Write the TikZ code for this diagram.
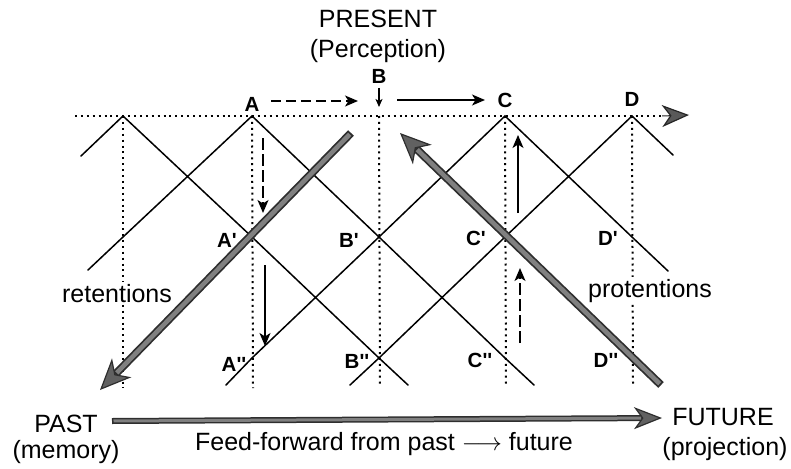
\documentclass[tikz,border=0pt]{standalone}
\usepackage{fontspec}
\setmainfont{Liberation Sans}
\usetikzlibrary{arrows.meta}
\begin{document}
\begin{tikzpicture}[x=1pt,y=-1pt,
  lat/.style={line width=1.5pt, line cap=round},
  dots/.style={line width=2pt, dash pattern=on 2pt off 3.9pt},
  big/.style={font=\fontsize{25}{29}\selectfont, inner sep=0pt},
  lbl/.style={font=\fontsize{20.5}{24}\selectfont\bfseries, inner sep=0pt},
  sarrow/.style={line width=1.5pt, -{Stealth[length=13pt,width=11pt,inset=3.5pt]}},
  tinyarrow/.style={line width=1.3pt, -{Stealth[length=8pt,width=7pt,inset=2pt]}},
  dsh/.style={dash pattern=on 10pt off 5pt},
  vdsh/.style={dash pattern=on 12pt off 4pt},
  grayshaft/.style={line width=8pt, draw=black!82, -{Stealth[length=31pt,width=27pt,inset=9pt,fill=black!62,line width=1.2pt]}},
  grayshaftb/.style={line width=6pt, draw=black!82, -{Stealth[length=28pt,width=22pt,inset=8pt,fill=black!62,line width=1.2pt]}},
  grayin/.style={draw=black!50},
  grayhead/.style={line width=1pt, draw=black!85, -{Stealth[length=27pt,width=22pt,inset=8pt,fill=black!65,line width=1.2pt]}}
]
\useasboundingbox (0,0) rectangle (791,468);

% lattice points
\coordinate (p0) at (123,116);
\coordinate (a) at (252,116);
\coordinate (b) at (379,116);
\coordinate (c) at (505,116);
\coordinate (d) at (632,116);
\coordinate (p01) at (123,237);
\coordinate (a1) at (252,237);
\coordinate (b1) at (379,237);
\coordinate (c1) at (505,237);
\coordinate (d1) at (632,237);
\coordinate (a2) at (252,358);
\coordinate (b2) at (379,358);
\coordinate (c2) at (505,358);
\coordinate (d2) at (632,358);
% bottoms of dotted lines
\coordinate (p0b) at (123,388);
\coordinate (ab) at (253,388);
\coordinate (bb) at (380,387);
\coordinate (cb) at (506,386);
\coordinate (db) at (633,385);
% free ends of the lattice lines
\coordinate (e1) at (81,156);
\coordinate (e2) at (408,385);
\coordinate (e3) at (88,270);
\coordinate (e4) at (534,385);
\coordinate (e5) at (226,385);
\coordinate (e6) at (668,271);
\coordinate (e7) at (350,385);
\coordinate (e8) at (673,155);

% dotted lines
\draw[dots] (p0) -- (p0b);
\draw[dots] (a) -- (ab);
\draw[dots] (b) -- (bb);
\draw[dots] (c) -- (cb);
\draw[dots] (d) -- (db);
\coordinate (tl) at (75,116);
\coordinate (tr) at (662,116);
\coordinate (ttip) at (689,115);
\draw[dots] (tl) -- (tr);
\draw[grayhead] (tr) -- (ttip);

% lattice lines
\draw[lat] (e1) -- (p0) -- (a1) -- (b2) -- (e2);
\draw[lat] (e3) -- (p01) -- (a) -- (b1) -- (c2) -- (e4);
\draw[lat] (e5) -- (a2) -- (b1) -- (c) -- (d1) -- (e6);
\draw[lat] (e7) -- (b2) -- (c1) -- (d) -- (e8);

% gray arrows
\coordinate (r0) at (351,133);
\coordinate (r1) at (100,390);
\draw[grayshaft] (r0) -- (r1);
\draw[grayin, line width=4.5pt, shorten >=24pt, shorten <=1.8pt] (r0) -- (r1);
\coordinate (q0) at (661,385);
\coordinate (q1) at (400,133);
\draw[grayshaft] (q0) -- (q1);
\draw[grayin, line width=4.5pt, shorten >=24pt, shorten <=1.8pt] (q0) -- (q1);
\coordinate (f0) at (112,421);
\coordinate (f1) at (662,418);
\draw[grayshaftb] (f0) -- (f1);
\draw[grayin, line width=3pt, shorten >=21pt, shorten <=1.5pt] (f0) -- (f1);

% small arrows
\coordinate (s1) at (271,101);
\coordinate (s2) at (358,101);
\coordinate (s3) at (379,88);
\coordinate (s4) at (379,107);
\coordinate (s5) at (397,100);
\coordinate (s6) at (485,100);
\coordinate (s7) at (263,138);
\coordinate (s8) at (263,213);
\coordinate (s9) at (265,265);
\coordinate (s10) at (265,346);
\coordinate (s11) at (518,213);
\coordinate (s12) at (518,135);
\coordinate (s13) at (520,343);
\coordinate (s14) at (520,268);
\draw[sarrow, dsh] (s1) -- (s2);
\draw[tinyarrow] (s3) -- (s4);
\draw[sarrow] (s5) -- (s6);
\draw[sarrow, vdsh] (s7) -- (s8);
\draw[sarrow] (s9) -- (s10);
\draw[sarrow] (s11) -- (s12);
\draw[sarrow, vdsh] (s13) -- (s14);

% point labels
\node[lbl] (nA) at (252,104) {A};
\node[lbl] (nB) at (379,76) {B};
\node[lbl] (nC) at (505,100) {C};
\node[lbl] (nD) at (632,99) {D};
\node[lbl] (nA1) at (227,240) {A\textquotesingle};
\node[lbl] (nB1) at (349,240) {B\textquotesingle};
\node[lbl] (nC1) at (476,238) {C\textquotesingle};
\node[lbl] (nD1) at (608,238) {D\textquotesingle};
\node[lbl] (nA2) at (234,364) {A\textquotesingle\textquotesingle};
\node[lbl] (nB2) at (357,361) {B\textquotesingle\textquotesingle};
\node[lbl] (nC2) at (480,360) {C\textquotesingle\textquotesingle};
\node[lbl] (nD2) at (606,360) {D\textquotesingle\textquotesingle};

% texts
\node[big, anchor=base] (present) at (378,28) {PRESENT};
\node[big, anchor=base] (perc) at (378,58) {(Perception)};
\node[big, anchor=base, fill=white, inner sep=2pt] (ret) at (117,302) {retentions};
\node[big, anchor=base, fill=white, inner sep=2pt] (pro) at (650,297) {protentions};
\node[big, anchor=base] (past) at (66,432) {PAST};
\node[big, anchor=base] (mem) at (66,458) {(memory)};
\node[big, anchor=base] (fut) at (723,425) {FUTURE};
\node[big, anchor=base] (proj) at (725,455) {(projection)};
\node[big, anchor=base] (ff) at (384,450) {Feed-forward from past $\longrightarrow$ future};
\end{tikzpicture}
\end{document}
